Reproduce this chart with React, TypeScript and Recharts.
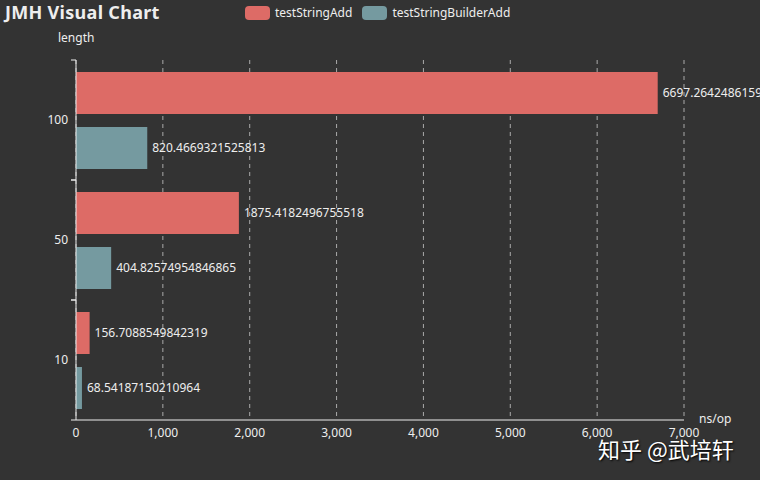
import { BarChart, Bar, XAxis, YAxis, CartesianGrid, LabelList } from "recharts";

const lengths = ["100", "50", "10"];
const testStringAdd = [6697.264248615918, 1875.4182496755518, 156.7088549842319];
const testStringBuilderAdd = [820.4669321525813, 404.82574954846865, 68.54187150210964];
const xTicks = [0, 1000, 2000, 3000, 4000, 5000, 6000, 7000];

const series = [
  { key: "testStringAdd", color: "#dd6b66" },
  { key: "testStringBuilderAdd", color: "#759aa0" },
];

const data = lengths.map((length, i) => ({
  length,
  testStringAdd: testStringAdd[i],
  testStringBuilderAdd: testStringBuilderAdd[i],
}));

const FONT = "'Noto Sans', 'Noto Sans CJK SC', sans-serif";
const TEXT = "#eeeeee";

// ticks at the band edges, like the original chart
const CategoryTick = ({ x, y, payload }: any) => {
  const half = payload.offset || 0;
  return (
    <g>
      <line x1={x + 3} x2={x + 8} y1={y - half} y2={y - half} stroke={TEXT} />
      <line x1={x + 3} x2={x + 8} y1={y + half} y2={y + half} stroke={TEXT} />
      <text x={x} y={y} dy={4} textAnchor="end" fill={TEXT} fontSize={12} fontFamily={FONT}>
        {payload.value}
      </text>
    </g>
  );
};

export default function App() {
  return (
    <div style={{ position: "absolute", left: 0, top: 0, width: 760, height: 480, background: "#333333", overflow: "hidden", fontFamily: FONT }}>
      <div style={{ position: "absolute", left: 5, top: 0, fontSize: 18, fontWeight: 700, color: TEXT, lineHeight: "24px", letterSpacing: 0.3 }}>
        JMH Visual Chart
      </div>
      <div style={{ position: "absolute", left: 245, top: 4, display: "flex", gap: 10, fontSize: 12, color: TEXT }}>
        {series.map((s) => (
          <div key={s.key} style={{ display: "flex", alignItems: "center" }}>
            <div style={{ width: 25, height: 14, borderRadius: 4, background: s.color, marginRight: 5 }} />
            <span>{s.key}</span>
          </div>
        ))}
      </div>
      <div style={{ position: "absolute", left: 58, top: 29, fontSize: 12, color: TEXT }}>length</div>
      <div style={{ position: "absolute", left: 699, top: 410, fontSize: 12, color: TEXT }}>ns/op</div>
      <BarChart
        width={760}
        height={480}
        data={data}
        layout="vertical"
        margin={{ top: 60, right: 76, bottom: 30, left: 16 }}
        barCategoryGap="10%"
        barGap={13}
      >
        <CartesianGrid horizontal={false} stroke="#aaaaaa" strokeDasharray="4 4" />
        <XAxis
          type="number"
          domain={[0, 7000]}
          ticks={xTicks}
          height={30}
          tickLine={false}
          tickSize={5}
          tickMargin={3}
          axisLine={{ stroke: TEXT }}
          tick={{ fill: TEXT, fontSize: 12, fontFamily: FONT }}
          tickFormatter={(v: number) => v.toLocaleString("en-US")}
        />
        <YAxis
          type="category"
          dataKey="length"
          width={60}
          tickLine={false}
          tickSize={5}
          tickMargin={3}
          axisLine={{ stroke: TEXT }}
          tick={<CategoryTick />}
        />
        {series.map((s) => (
          <Bar key={s.key} dataKey={s.key} fill={s.color} isAnimationActive={false}>
            <LabelList dataKey={s.key} position="right" offset={5} fill={TEXT} fontSize={12} fontFamily={FONT} />
          </Bar>
        ))}
      </BarChart>
      <div
        style={{
          position: "absolute",
          left: 598,
          top: 432,
          fontSize: 22,
          color: "#ffffff",
          fontFamily: "'Noto Sans CJK SC', sans-serif",
          textShadow: "1px 1px 2px #000",
          whiteSpace: "nowrap",
        }}
      >
        知乎 @武培轩
      </div>
    </div>
  );
}
